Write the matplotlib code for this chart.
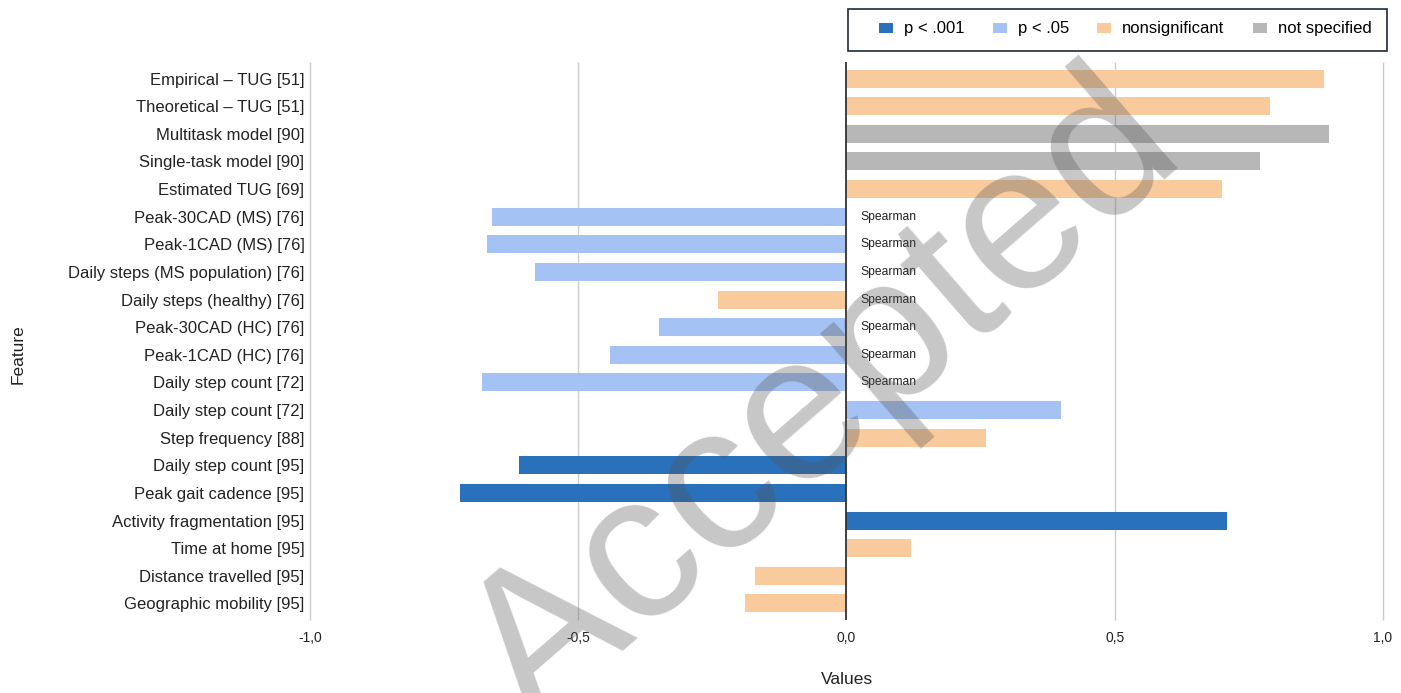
import matplotlib.pyplot as plt
from matplotlib.patches import Patch, Rectangle
import numpy as np

plt.rcParams['font.family'] = ['Liberation Sans', 'DejaVu Sans']

features = ['Empirical – TUG [51]', 'Theoretical – TUG [51]', 'Multitask model [90]',
            'Single-task model [90]', 'Estimated TUG [69]', 'Peak-30CAD (MS) [76]',
            'Peak-1CAD (MS) [76]', 'Daily steps (MS population) [76]',
            'Daily steps (healthy) [76]', 'Peak-30CAD (HC) [76]', 'Peak-1CAD (HC) [76]',
            'Daily step count [72]', 'Daily step count [72]', 'Step frequency [88]',
            'Daily step count [95]', 'Peak gait cadence [95]',
            'Activity fragmentation [95]', 'Time at home [95]',
            'Distance travelled [95]', 'Geographic mobility [95]']
values = [0.89, 0.79, 0.90, 0.77, 0.70, -0.66, -0.67, -0.58, -0.24, -0.35, -0.44,
          -0.68, 0.40, 0.26, -0.61, -0.72, 0.71, 0.12, -0.17, -0.19]
signif = ['ns', 'ns', 'na', 'na', 'ns', 'p05', 'p05', 'p05', 'ns', 'p05', 'p05',
          'p05', 'p05', 'ns', 'p001', 'p001', 'p001', 'ns', 'ns', 'ns']
method = ['', '', '', '', '', 'Spearman', 'Spearman', 'Spearman', 'Spearman',
          'Spearman', 'Spearman', 'Spearman', '', '', '', '', '', '', '', '']

groups = ['p001', 'p05', 'ns', 'na']
group_labels = ['p < .001', 'p < .05', 'nonsignificant', 'not specified']
group_colors = {'p001': '#2A71BB', 'p05': '#A4C2F4', 'ns': '#F9CB9C', 'na': '#B7B7B7'}
xticks = [-1.0, -0.5, 0.0, 0.5, 1.0]
xticklabels = ['-1,0', '-0,5', '0,0', '0,5', '1,0']

W, H = 1401, 693
fig = plt.figure(figsize=(W / 100, H / 100), dpi=100)
ax = fig.add_axes([310 / W, 1 - 620 / H, (1383 - 310) / W, (620 - 62) / H])

y = np.arange(len(features))
cols = [group_colors[s] for s in signif]
ax.barh(y, values, height=0.65, color=cols, zorder=2)
ax.axvline(0, color='#333333', lw=1.3, zorder=3)
# vertical grid, not clipped so the outer lines show fully
ax.vlines([t for t in xticks if t != 0], -0.6, len(features) - 0.4,
          color='#cccccc', lw=1, zorder=0, clip_on=False)

for i, m in enumerate(method):
    if m:
        ax.text(0.026, i, m, fontsize=8.7, va='center', ha='left', color='#222222', zorder=4)

ax.set_xlim(-1, 1)
ax.set_ylim(len(features) - 0.4, -0.6)
ax.set_yticks(y)
ax.set_yticklabels(features, fontsize=12, color='#222222')
ax.set_xticks(xticks)
ax.set_xticklabels(xticklabels, fontsize=10, color='#222222')
ax.tick_params(axis='both', length=0)
ax.tick_params(axis='y', pad=4)
ax.tick_params(axis='x', pad=8)
for s in ax.spines.values():
    s.set_visible(False)

ax.set_xlabel('Values', fontsize=12.5, color='#222222', labelpad=19)
fig.text(18 / W, 1 - 354 / H, 'Feature', rotation=90, fontsize=12.5,
         color='#222222', ha='center', va='center')

# legend: entries without frame, box drawn separately
handles = [Patch(facecolor=group_colors[g], edgecolor='none') for g in groups]
fig.legend(handles, group_labels, ncol=4, loc='center left',
           bbox_to_anchor=(879 / W, 1 - 29 / H), borderaxespad=0, borderpad=0,
           fontsize=12, frameon=False, handlelength=0.84, handleheight=0.54,
           handletextpad=0.66, columnspacing=1.7)
fig.patches.append(Rectangle((848 / W, 1 - 51 / H), (1387 - 848) / W, 42 / H,
                             transform=fig.transFigure, facecolor='none',
                             edgecolor='#1d2b3a', lw=1.2))

# watermark
fig.text(861 / W, 1 - 444 / H, 'Accepted', fontsize=150, rotation=41,
         rotation_mode='anchor', ha='center', va='baseline', color='#555555',
         alpha=0.33, zorder=10)

fig.savefig('out.png', dpi=100)
